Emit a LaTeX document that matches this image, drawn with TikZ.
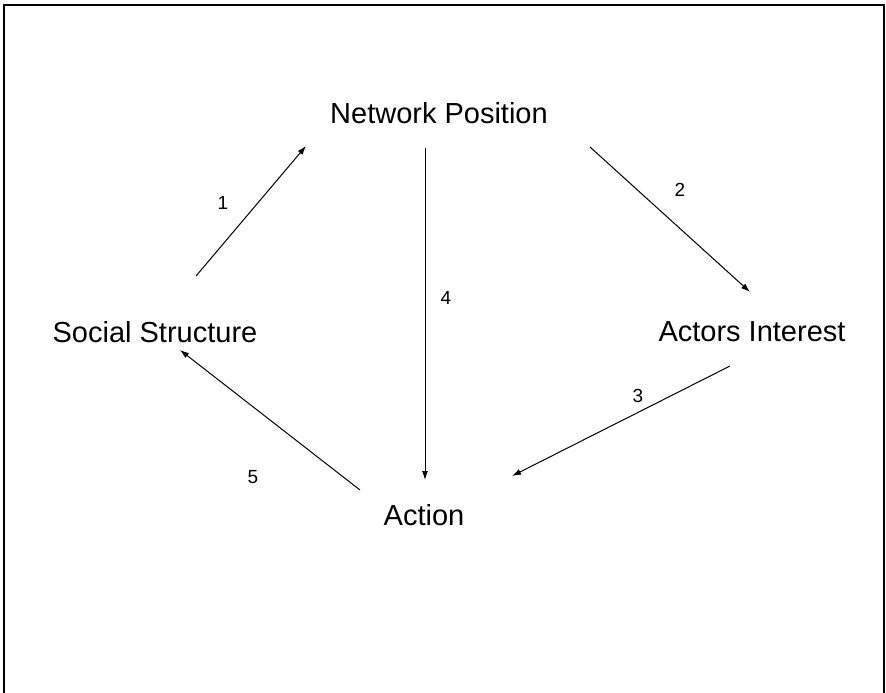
\documentclass[tikz,border=0pt]{standalone}
\usepackage{fontspec}
\setmainfont{Liberation Sans}
\usetikzlibrary{arrows.meta}
\begin{document}
\begin{tikzpicture}[x=1pt,y=-1pt,
  lbl/.style={font=\fontsize{29}{33}\selectfont, inner sep=0pt, anchor=center},
  num/.style={font=\fontsize{19}{22}\selectfont, inner sep=0pt, anchor=center},
  conn/.style={line width=1pt, -{Latex[length=9pt,width=6pt]}},
  frame/.style={line width=2.2pt}]
\useasboundingbox (0,0) rectangle (886,693);
\draw[frame] (4,720) -- (4,5) -- (884,5) -- (884,720);
\node[lbl] (np) at (439,113) {Network Position};
\node[lbl] (ss) at (155,332) {Social Structure};
\node[lbl] (ai) at (752,332) {Actors Interest};
\node[lbl] (ac) at (424,515) {Action};
\coordinate (np1) at (306,146);
\coordinate (np2) at (590,147);
\coordinate (np4) at (425,148);
\coordinate (ss1) at (196,276);
\coordinate (ss5) at (180,350);
\coordinate (ai2) at (750,292);
\coordinate (ai3) at (730,366);
\coordinate (ac4) at (425,480);
\coordinate (ac3) at (512,476);
\coordinate (ac5) at (360,490);
\draw[conn] (ss1) -- (np1);
\draw[conn] (np2) -- (ai2);
\draw[conn] (np4) -- (ac4);
\draw[conn] (ai3) -- (ac3);
\draw[conn] (ac5) -- (ss5);
\node[num] (n1) at (223,203) {1};
\node[num] (n2) at (680,190) {2};
\node[num] (n4) at (446,298) {4};
\node[num] (n3) at (638,396) {3};
\node[num] (n5) at (253,477) {5};
\end{tikzpicture}
\end{document}
